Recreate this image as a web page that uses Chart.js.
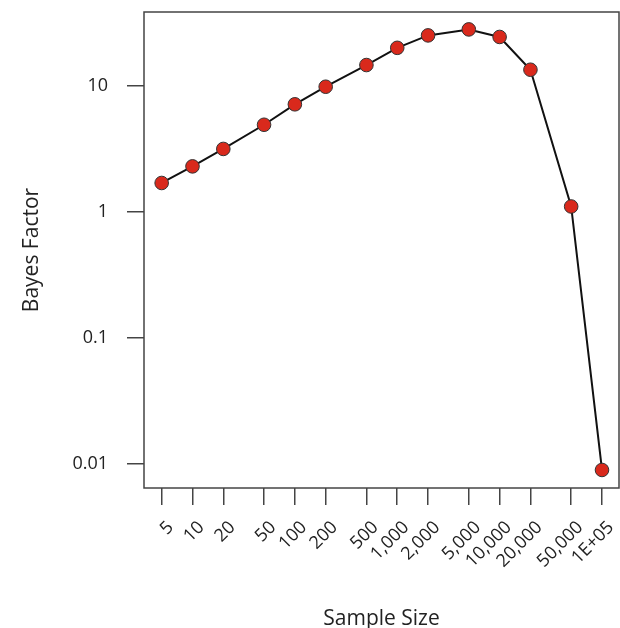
<!DOCTYPE html>
<html lang="en">
<head>
    <meta charset="UTF-8">
    <title>Bayes Factor vs Sample Size</title>
    <script src="https://cdn.jsdelivr.net/npm/chart.js"></script>
    <style>
        body {
            margin: 0;
            background: white;
        }
        #wrap {
            width: 620px;
            height: 628px;
        }
    </style>
</head>
<body>
    <div id="wrap">
        <canvas id="myChart" width="620" height="628"></canvas>
    </div>

    <script>
        const sampleSizes = [5, 10, 20, 50, 100, 200, 500, 1000, 2000, 5000, 10000, 20000, 50000, 100000];
        const sampleLabels = ['5', '10', '20', '50', '100', '200', '500', '1,000', '2,000', '5,000',
                              '10,000', '20,000', '50,000', '1E+05'];
        const bayesFactors = [1.69, 2.29, 3.15, 4.90, 7.12, 9.82, 14.6, 20.0, 25.1, 28.0, 24.4, 13.4, 1.10, 0.0089];
        const yTickValues = [0.01, 0.1, 1, 10];
        const yTickLabels = ['0.01', '0.1', '1', '10'];

        const font = "'Open Sans', 'DejaVu Sans', sans-serif";
        const axisColor = '#444';

        // box around the plotting region (R style)
        const boxPlugin = {
            id: 'box',
            afterDraw(chart) {
                const a = chart.chartArea;
                const ctx = chart.ctx;
                ctx.save();
                ctx.strokeStyle = axisColor;
                ctx.lineWidth = 1.5;
                ctx.strokeRect(a.left, a.top, a.right - a.left, a.bottom - a.top);
                ctx.restore();
            }
        };

        // keep the plot box where it is, whatever the label sizes
        function noPadding(scale) {
            scale.paddingTop = 0;
            scale.paddingBottom = 0;
            scale.paddingLeft = 0;
            scale.paddingRight = 0;
        }

        const ctx = document.getElementById('myChart').getContext('2d');
        new Chart(ctx, {
            type: 'line',
            data: {
                datasets: [{
                    data: sampleSizes.map((n, i) => ({ x: n, y: bayesFactors[i] })),
                    borderColor: '#111',
                    borderWidth: 2,
                    pointRadius: 6.8,
                    pointBackgroundColor: '#d9291c',
                    pointBorderColor: '#333',
                    pointBorderWidth: 1,
                    tension: 0,
                    clip: false
                }]
            },
            options: {
                responsive: false,
                animation: false,
                layout: {
                    autoPadding: false,
                    padding: { top: 12, right: 1, left: 0, bottom: 0 }
                },
                plugins: {
                    legend: { display: false },
                    tooltip: { enabled: false }
                },
                scales: {
                    x: {
                        type: 'logarithmic',
                        min: 3.36,
                        max: 146600,
                        afterBuildTicks(scale) {
                            scale.ticks = sampleSizes.map(v => ({ value: v }));
                        },
                        afterFit(scale) {
                            scale.height = 140;
                            noPadding(scale);
                        },
                        grid: {
                            drawOnChartArea: false,
                            drawTicks: true,
                            tickLength: 17,
                            color: axisColor,
                            lineWidth: 1.5
                        },
                        border: { display: false },
                        ticks: {
                            autoSkip: false,
                            maxRotation: 45,
                            minRotation: 45,
                            padding: 12,
                            labelOffset: 9,
                            color: '#222',
                            font: { family: font, size: 18 },
                            callback: (v, i) => sampleLabels[i]
                        },
                        title: {
                            display: true,
                            text: 'Sample Size',
                            color: '#222',
                            font: { family: font, size: 21 },
                            padding: { top: 0, bottom: -4 }
                        }
                    },
                    y: {
                        type: 'logarithmic',
                        min: 0.0064,
                        max: 38.5,
                        afterBuildTicks(scale) {
                            scale.ticks = yTickValues.map(v => ({ value: v }));
                        },
                        afterFit(scale) {
                            scale.width = 144;
                            noPadding(scale);
                        },
                        grid: {
                            drawOnChartArea: false,
                            drawTicks: true,
                            tickLength: 17,
                            color: axisColor,
                            lineWidth: 1.5
                        },
                        border: { display: false },
                        ticks: {
                            padding: 19,
                            color: '#222',
                            font: { family: font, size: 18 },
                            callback: (v, i) => yTickLabels[i]
                        },
                        title: {
                            display: true,
                            text: 'Bayes Factor',
                            color: '#222',
                            font: { family: font, size: 21 },
                            padding: { top: 19, bottom: 0 }
                        }
                    }
                }
            },
            plugins: [boxPlugin]
        });
    </script>
</body>
</html>
